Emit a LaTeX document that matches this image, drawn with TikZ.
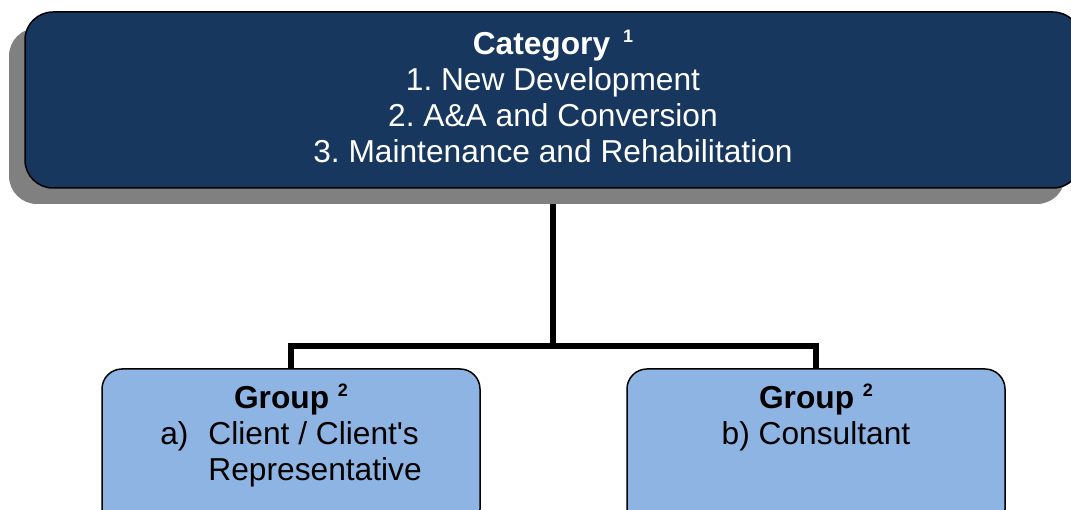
\documentclass[tikz,border=0pt]{standalone}
\usepackage{fontspec}
\setmainfont{Liberation Sans}
\usetikzlibrary{positioning,shadows,backgrounds}

\definecolor{catnavy}{RGB}{23,55,94}
\definecolor{grpblue}{RGB}{142,180,227}
\definecolor{shadowgrey}{RGB}{128,128,128}

\newcommand{\notemark}[1]{\raisebox{12pt}{\fontsize{18}{18}\selectfont\bfseries #1}}

\tikzset{
    catbox/.style={rectangle, rounded corners=28pt, draw=black, line width=1.5pt, fill=catnavy,
        minimum width=1056pt, minimum height=176pt, inner sep=0pt,
        drop shadow={shadow xshift=-16pt, shadow yshift=-16pt, fill=shadowgrey, opacity=1}},
    grpbox/.style={rectangle, rounded corners=20pt, draw=black, line width=1.5pt, fill=grpblue,
        minimum width=378pt, minimum height=160pt, inner sep=0pt},
    boxtext/.style={align=center, inner sep=0pt, font=\fontsize{31.7}{36}\selectfont\frenchspacing},
    link/.style={line width=5.5pt},
}

\begin{document}
\begin{tikzpicture}[x=1pt, y=-1pt]
    \useasboundingbox (0,0) rectangle (1071,510);
    \clip (0,0) rectangle (1071,510);
    % category box
    \node[catbox] (cat) at (553,100) {};
    \node[boxtext, text=white] (cattext) at ([yshift=4pt]cat.center)
        {\textbf{Category}\hspace{13pt}\notemark{1}\\1. New Development\\2. A\&A and Conversion\\3. Maintenance and Rehabilitation};
    % group boxes
    \node[grpbox] (lgrp) at (291,449) {};
    \node[grpbox] (rgrp) at (816,449) {};
    \node[boxtext, below=15pt of lgrp.north] (lgrptext)
        {\textbf{Group} \notemark{2}\\
         \begin{tabular}[t]{@{}l@{\hspace{20pt}}l@{}}a) & Client / Client\textquotesingle s\\ & Representative\end{tabular}};
    \node[boxtext, below=15pt of rgrp.north] (rgrptext)
        {\textbf{Group} \notemark{2}\\b) Consultant};
    % connectors
    \begin{scope}[on background layer]
        \coordinate (fork) at (553,346);
        \draw[link] (cat.south) -- (fork);
        \draw[link] (lgrp.north) -- (lgrp.north |- fork) -- (rgrp.north |- fork) -- (rgrp.north);
    \end{scope}
\end{tikzpicture}
\end{document}
